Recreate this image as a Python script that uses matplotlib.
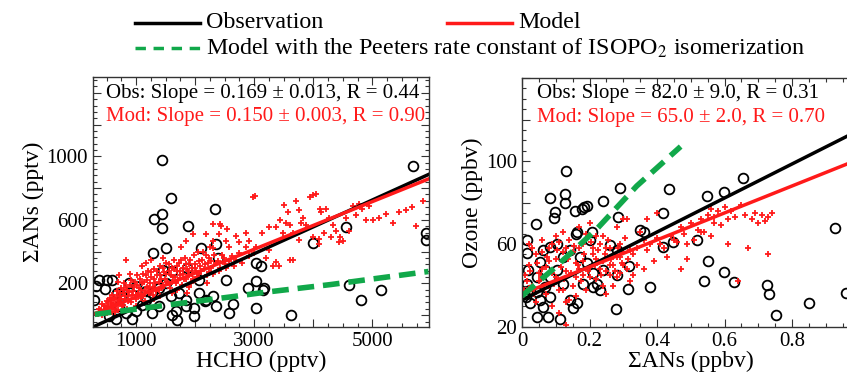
import matplotlib
matplotlib.use("Agg")
import matplotlib.pyplot as plt
from matplotlib.lines import Line2D
from matplotlib.ticker import MultipleLocator
import numpy as np

plt.rcParams['font.family'] = ['Liberation Serif', 'DejaVu Serif']
plt.rcParams['mathtext.fontset'] = 'stix'

# ---- left panel: HCHO vs sum ANs (pptv) ----
obs_hcho = [1435, 1588, 1446, 1305, 1435, 1503, 1288, 1887, 2339, 2096, 2350, 2379,
            1463, 1616, 1870, 2520, 3028, 3113, 2887, 3028, 3141, 3169, 3989, 4554,
            5684, 5910, 5910, 4610, 5147, 4808, 3621, 3028, 2633, 2576, 2350, 2164,
            1983, 1983, 1672, 1616, 1700, 1107, 938, 373, 514, 599, 316, 480, 288,
            684, 768, 881, 994, 1164, 1277, 1390, 1503, 1588, 1729, 1842, 1164, 994,
            825, 542, 655, 1277, 2068, 2181, 2294, 1842, 1390, 712, 2068]
obs_ans = [980, 737, 640, 608, 546, 421, 390, 560, 667, 421, 446, 358,
           285, 275, 296, 223, 327, 312, 171, 212, 156, 171, 456, 556,
           942, 515, 473, 192, 160, 94, -2, 42, 73, 15, 56, 88,
           46, -6, 25, 4, -31, 67, -27, 223, 223, 223, 181, 165, 98,
           140, 119, 202, 181, 150, 140, 171, 202, 119, 140, 98, 98, 25,
           15, -6, -27, 15, 140, 98, 119, 56, 56, 56, 223]

mod_hcho = [2972, 3020, 2420, 2440, 2300, 2540, 2690, 2860, 2920, 3030, 3140, 3200,
            3250, 3370, 3310, 3420, 3510, 3570, 3710, 3760, 3790, 3820, 3880, 3940,
            4000, 4050, 4110, 4130, 4220, 4260, 4330, 4100, 4190, 3990, 3760, 3650,
            3600, 3480, 3370, 3250, 3430, 3540, 3600, 3650, 4300, 4390, 4450, 4560,
            4670, 4780, 4830, 4900, 4950, 5010, 5120, 5230, 5350, 5460, 5570, 5680,
            5740, 5860, 4100, 4440, 4500, 4610, 4720, 2750, 2860, 2630, 2750, 2920,
            2570, 2520, 3000, 2410, 2300, 2180, 2250, 1960, 1840, 1760,
            400, 450, 480, 500, 520, 550, 580, 600, 620, 650, 680, 700, 720, 740,
            760, 780, 800, 820, 850, 870, 900, 920, 950, 980, 1000, 1020, 1050,
            1080, 1100, 1120, 1150, 1180, 1200, 1220, 1250, 1280, 1300, 1320, 1350,
            1380, 1400, 1420, 1450, 1480, 1500, 1520, 1550, 1580, 1600, 1620, 1650,
            1680, 1700, 1720, 1750, 1780, 1800, 1830, 1850, 1880, 1900, 1930, 1950,
            1980, 2000, 2030, 2060, 2100, 2130, 2160, 2200, 2230, 2260, 2300, 2350,
            2400, 2450, 2500, 700, 900, 1250, 1450, 1100, 850, 650, 1000, 1300,
            1600, 1900, 2200, 825, 712, 1164,
            350, 380, 420, 430, 460, 490, 510, 530, 560, 570, 590, 610, 630, 660,
            670, 690, 710, 730, 750, 770, 790, 810, 830, 860, 880, 910, 930, 960,
            990, 1010, 1040, 1060, 1090, 1110, 1130, 1160, 1190, 1210, 1240, 1260,
            1290, 1310, 1340, 1360, 1390, 1410, 1440, 1460, 1490, 1510, 1540, 1560,
            1590, 1610, 1640, 1660, 1690, 1710, 1740, 1760, 1790, 1810, 1840, 1860,
            1890, 1910, 1940, 1960, 1990, 2020, 2040, 2070, 2090, 2120, 2150, 2180,
            2210, 2240, 2270, 2320, 2380, 2420, 2480, 2530, 2580, 2650, 2700, 2800,
            1700, 1400, 1150, 2000, 2300, 1864]
mod_ans = [744, 750, 575, 560, 575, 545, 500, 520, 470, 430, 515, 360,
           410, 335, 310, 310, 695, 650, 720, 660, 580, 610, 565, 745,
           755, 760, 670, 650, 670, 610, 565, 480, 515, 490, 475, 515,
           565, 515, 556, 556, 600, 580, 345, 345, 490, 530, 495, 610,
           690, 700, 670, 600, 690, 600, 610, 640, 580, 650, 660, 680,
           560, 720, 450, 460, 470, 530, 630, 460, 430, 370, 390, 370,
           430, 470, 390, 510, 470, 510, 430, 510, 470, 430,
           30, 60, 20, 90, 50, 110, 70, 130, 40, 100, 150, 80, 120, 170,
           60, 140, 200, 100, 160, 120, 190, 80, 150, 210, 130, 250, 170,
           110, 200, 260, 150, 220, 280, 170, 240, 130, 290, 200, 250,
           160, 310, 230, 190, 270, 330, 210, 280, 170, 300, 240, 350,
           200, 280, 330, 250, 190, 300, 360, 230, 280, 320, 200, 260,
           380, 300, 240, 340, 280, 400, 320, 250, 360, 300, 420, 330,
           280, 380, 320, 210, 260, 350, 360, 310, 40, 20, 60, 100,
           140, 180, 200, 350, 255, 327,
           10, 40, 0, 70, 35, 55, 15, 80, 45, 95, 20, 75, 110, 60,
           125, 30, 95, 140, 100, 65, 160, 120, 180, 90, 145, 220, 130, 175,
           100, 190, 140, 230, 160, 120, 210, 250, 180, 140, 200, 270,
           180, 230, 150, 280, 210, 250, 170, 300, 230, 260, 200, 320,
           250, 210, 290, 240, 310, 220, 280, 350, 260, 230, 320, 290,
           250, 350, 300, 230, 320, 280, 400, 260, 310, 350, 290, 380,
           330, 270, 340, 380, 340, 300, 360, 300, 340, 310, 350, 330,
           160, 120, 90, 220, 260, 137]

peeters_hcho = [300, 1000, 1700, 2600, 3200, 4300, 5950]
peeters_ans = [5, 38, 72, 115, 145, 193, 275]

# ---- right panel: sum ANs (ppbv) vs ozone (ppbv) ----
obs_ans2 = [0.13, 0.29, 0.436, 0.656, 0.597, 0.547, 0.419, 0.241, 0.083, 0.128, 0.128,
            0.098, 0.095, 0.157, 0.178, 0.185, 0.192, 0.041, 0.283, 0.162, 0.159,
            0.206, 0.2, 0.26, 0.28, 0.28, 0.318, 0.315, 0.277, 0.38, 0.36, 0.35,
            0.419, 0.448, 0.518, 0.552, 0.54, 0.597, 0.628, 0.725, 0.733, 0.753,
            0.85, 0.927, 0.96, 0.014, 0.016, 0.019, 0.014, 0.012, 0.024, 0.045,
            0.078, 0.113, 0.063, 0.053, 0.083, 0.068, 0.043, 0.068, 0.053, 0.063,
            0.083, 0.103, 0.122, 0.103, 0.122, 0.142, 0.152, 0.162, 0.182, 0.211,
            0.211, 0.192, 0.172, 0.142, 0.241, 0.221, 0.231, 0.083, 0.024, 0.043]
obs_o3 = [95, 87, 86.5, 92, 85, 83, 75, 81, 82, 84, 79.6,
          75.6, 72.7, 76, 77, 78, 78.3, 69.6, 73, 66, 65,
          66, 62, 59.5, 57, 45, 49.4, 38.3, 28.7, 39.4, 66, 67,
          58.7, 61, 62, 52, 42, 46.7, 41.5, 40.2, 35.7, 25.8,
          31.4, 67.6, 36.5, 62, 55.8, 47.5, 41, 34.6, 31.4, 24.7,
          25, 23.7, 29.8, 33, 34.6, 39.4, 44.3, 47.5, 51.5, 57,
          58.7, 60, 54, 47.5, 41, 33, 29, 31.4, 41, 39.4,
          46, 50.7, 54, 57, 47.5, 41, 38, 44.3, 37.8, 37]

mod_ans2 = [0.01, 0.02, 0.03, 0.04, 0.05, 0.06, 0.07, 0.08, 0.09, 0.10, 0.11, 0.12,
            0.13, 0.14, 0.15, 0.16, 0.17, 0.18, 0.19, 0.20, 0.21, 0.22, 0.23, 0.24,
            0.25, 0.26, 0.27, 0.28, 0.29, 0.30, 0.31, 0.32, 0.03, 0.06, 0.09, 0.11,
            0.13, 0.14, 0.12, 0.17, 0.20, 0.24, 0.28, 0.30, 0.27, 0.33, 0.25, 0.05,
            0.08, 0.15, 0.18, 0.22, 0.26, 0.02, 0.07, 0.10, 0.16, 0.19, 0.23, 0.29,
            0.35, 0.36, 0.38, 0.40, 0.42, 0.44, 0.46, 0.47, 0.48, 0.50, 0.52, 0.53,
            0.55, 0.56, 0.57, 0.58, 0.60, 0.62, 0.63, 0.65, 0.66, 0.68, 0.70, 0.72,
            0.73, 0.74, 0.56, 0.61, 0.64, 0.67, 0.73, 0.47, 0.49, 0.43, 0.39, 0.34,
            0.40, 0.37, 0.51, 0.54, 0.59, 0.31, 0.34, 0.36, 0.11, 0.13,
            0.005, 0.015, 0.025, 0.035, 0.045, 0.055, 0.065, 0.075, 0.085, 0.095,
            0.105, 0.115, 0.125, 0.135, 0.145, 0.155, 0.165, 0.175, 0.185, 0.195,
            0.205, 0.215, 0.225, 0.235, 0.245, 0.255, 0.265, 0.275, 0.285, 0.295,
            0.305, 0.315, 0.02, 0.04, 0.06, 0.08, 0.10, 0.12, 0.14, 0.16, 0.18,
            0.20, 0.22, 0.24, 0.26, 0.28, 0.30, 0.32, 0.09, 0.13, 0.17, 0.21,
            0.25, 0.29, 0.33, 0.37, 0.41, 0.45, 0.49, 0.53, 0.57, 0.61, 0.69, 0.71]
mod_o3 = [45, 50, 40, 55, 42, 48, 36, 52, 60, 44, 38, 56,
          47, 62, 40, 51, 58, 45, 65, 49, 55, 43, 60, 52,
          47, 58, 50, 54, 46, 56, 48, 42, 58, 62, 30, 27,
          21, 33, 66, 68, 70, 64, 68, 72, 40, 45, 36, 46,
          40, 56, 60, 53, 45, 39, 49, 53, 44, 38, 48, 60,
          66, 62, 60, 63, 58, 64, 61, 68, 65, 70, 67, 72,
          74, 77, 70, 76, 78, 76, 73, 79, 74, 72, 70, 71,
          73, 75, 64, 60, 42, 58, 55, 48, 53, 54, 52, 58,
          75, 72, 62, 66, 69, 72, 50, 48, 61, 32,
          38, 42, 47, 36, 51, 44, 39, 54, 47, 41,
          57, 49, 43, 53, 46, 59, 50, 42, 55, 47,
          61, 50, 57, 45, 55, 62, 53, 47, 58, 51,
          63, 53, 60, 32, 56, 58, 64, 38, 55, 35, 52,
          44, 64, 40, 50, 44, 50, 57, 46, 58, 48, 58,
          58, 54, 55, 57, 60, 62, 60, 66, 73, 72, 75, 74]

peeters_ans2 = [0.0, 0.1, 0.22, 0.34, 0.47]
peeters_o3 = [35, 49, 67, 88, 107]

# regression results shown in the panels
fits_left = {'obs': (0.169, -120), 'mod': (0.150, -35)}
fits_right = {'obs': (82.0, 33), 'mod': (65.0, 36)}

GREEN = '#11a84a'
RED = '#ff1a1a'

fig = plt.figure(figsize=(8.47, 3.79), dpi=100)
ax1 = fig.add_axes([0.1098, 0.137, 0.3967, 0.660])
ax2 = fig.add_axes([0.6163, 0.137, 0.3985, 0.657])


def style(ax):
    ax.tick_params(which='both', direction='in', top=True, right=True, labelsize=15,
                   width=0.8, color='#333333')
    ax.tick_params(which='major', length=6)
    ax.tick_params(which='minor', length=3)
    for s in ax.spines.values():
        s.set_linewidth(1.0)
        s.set_color('#333333')


# left
ax1.plot(obs_hcho, obs_ans, 'o', mfc='none', mec='black', ms=7, mew=1.3)
ax1.plot(mod_hcho, mod_ans, '+', color=RED, ms=5, mew=1.3)
xl = np.array([300, 6000])
for key, col in [('obs', 'black'), ('mod', RED)]:
    s, b = fits_left[key]
    ax1.plot(xl, s * xl + b, color=col, lw=2.5)
ax1.plot(peeters_hcho, peeters_ans, color=GREEN, lw=4, dashes=(3, 1.6))
ax1.set_xlim(270, 5960)
ax1.set_ylim(-75, 1500)
ax1.set_xticks([1000, 2000, 3000, 4000, 5000])
ax1.set_xticklabels(['1000', '', '3000', '', '5000'])
ax1.xaxis.set_minor_locator(MultipleLocator(250))
ax1.set_yticks([0, 200, 400, 600, 800, 1000, 1200, 1400])
ax1.set_yticklabels(['', '200', '', '600', '', '1000', '', ''])
ax1.yaxis.set_minor_locator(MultipleLocator(40))
ax1.set_xlabel('HCHO (pptv)', fontsize=17, labelpad=0)
ax1.set_ylabel('ΣANs (pptv)', fontsize=17, labelpad=2)
style(ax1)
ax1.text(0.04, 0.935, 'Obs: Slope = 0.169 ± 0.013, R = 0.44', transform=ax1.transAxes,
         fontsize=15, color='black', va='center')
ax1.text(0.04, 0.84, 'Mod: Slope = 0.150 ± 0.003, R = 0.90', transform=ax1.transAxes,
         fontsize=15, color=RED, va='center')

# right
ax2.plot(obs_ans2, obs_o3, 'o', mfc='none', mec='black', ms=7, mew=1.3)
ax2.plot(mod_ans2, mod_o3, '+', color=RED, ms=5, mew=1.3)
xr = np.array([0, 1.0])
for key, col in [('obs', 'black'), ('mod', RED)]:
    s, b = fits_right[key]
    ax2.plot(xr, s * xr + b, color=col, lw=2.5)
ax2.plot(peeters_ans2, peeters_o3, color=GREEN, lw=4, dashes=(3, 1.6))
ax2.set_xlim(0, 1.0)
ax2.set_ylim(20, 140)
ax2.set_xticks([0, 0.2, 0.4, 0.6, 0.8, 1.0])
ax2.set_xticklabels(['0', '0.2', '0.4', '0.6', '0.8', ''])
ax2.xaxis.set_minor_locator(MultipleLocator(0.05))
ax2.set_yticks([20, 40, 60, 80, 100, 120, 140])
ax2.set_yticklabels(['20', '', '60', '', '100', '', ''])
ax2.yaxis.set_minor_locator(MultipleLocator(5))
ax2.set_xlabel('ΣANs (ppbv)', fontsize=17, labelpad=0)
ax2.set_ylabel('Ozone (ppbv)', fontsize=17, labelpad=2)
style(ax2)
ax2.text(0.044, 0.94, 'Obs: Slope = 82.0 ± 9.0, R = 0.31', transform=ax2.transAxes,
         fontsize=15, color='black', va='center')
ax2.text(0.044, 0.84, 'Mod: Slope = 65.0 ± 2.0, R = 0.70', transform=ax2.transAxes,
         fontsize=15, color=RED, va='center')

# legend drawn at the top of the figure
fig.add_artist(Line2D([0.159, 0.236], [0.940, 0.940], color='black', lw=2.5,
                      transform=fig.transFigure))
fig.text(0.243, 0.940, 'Observation', fontsize=17.3, va='center')
fig.add_artist(Line2D([0.528, 0.604], [0.940, 0.940], color=RED, lw=2.5,
                      transform=fig.transFigure))
fig.text(0.612, 0.940, 'Model', fontsize=17.3, va='center')
fig.add_artist(Line2D([0.159, 0.236], [0.873, 0.873], color=GREEN, lw=2.5,
                      dashes=(3, 2.2), transform=fig.transFigure))
fig.text(0.243, 0.873, 'Model with the Peeters rate constant of ISOPO$_2$ isomerization',
         fontsize=17.3, va='center')

fig.savefig('out.png', dpi=100)
